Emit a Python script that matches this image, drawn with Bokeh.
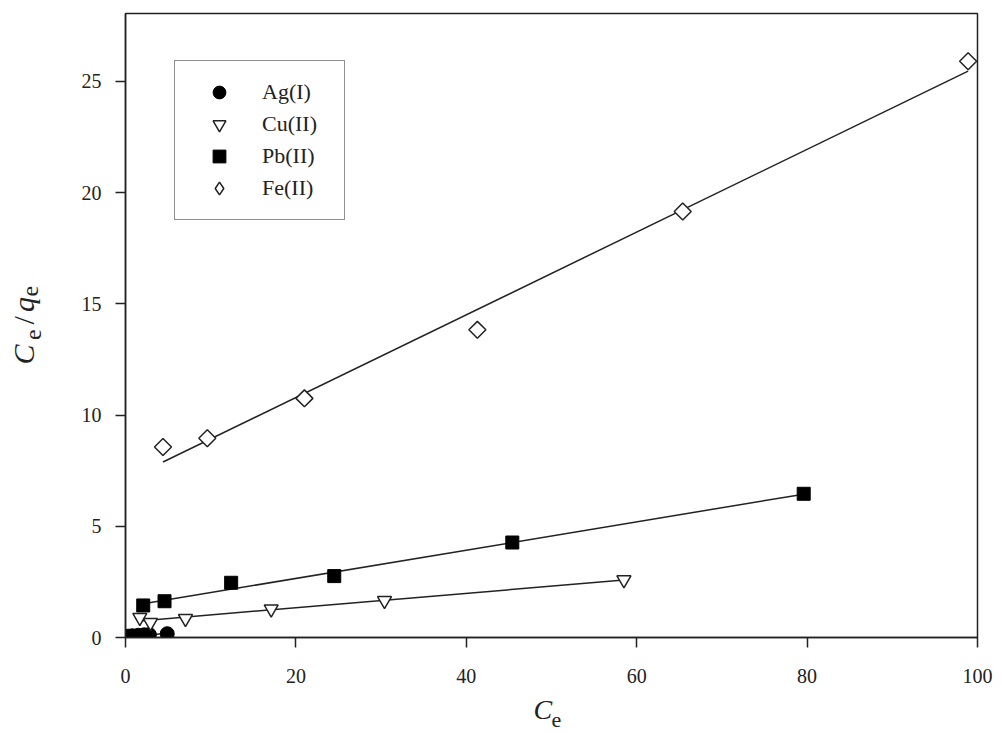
import numpy as np
from bokeh.plotting import figure
from bokeh.layouts import row, column
from bokeh.models import Range1d, FixedTicker, Legend, LegendItem
from bokeh.core.properties import value
from bokeh.embed import file_html
from bokeh.resources import INLINE

# ---- data ----
ag_x = [0.3, 0.8, 1.5, 2.2, 2.8, 4.9]
ag_y = [0.06, 0.08, 0.10, 0.12, 0.13, 0.17]

cu_x = [1.68, 2.93, 7.04, 17.1, 30.4, 58.5]
cu_y = [0.90, 0.67, 0.85, 1.28, 1.66, 2.59]

pb_x = [2.08, 4.58, 12.4, 24.5, 45.4, 79.6]
pb_y = [1.44, 1.63, 2.46, 2.76, 4.27, 6.46]

fe_x = [4.4, 9.6, 21.0, 41.3, 65.4, 98.9]
fe_y = [8.56, 8.96, 10.75, 13.83, 19.15, 25.9]

series_names = ["Ag(I)", "Cu(II)", "Pb(II)", "Fe(II)"]
x_ticks = [0, 20, 40, 60, 80, 100]
y_ticks = [0, 5, 10, 15, 20, 25]

FONT = "Liberation Serif"
INK = "#222222"

# ---------------- main plot ----------------
p = figure(width=940, height=690, x_range=Range1d(0, 100), y_range=Range1d(0, 28.05),
           output_backend="svg", toolbar_location=None, title=None,
           min_border_left=65, min_border_right=23, min_border_top=13, min_border_bottom=53)
p.grid.visible = False
p.outline_line_color = INK
p.outline_line_width = 1.5
p.background_fill_color = "white"
p.border_fill_color = "white"

for ax in (p.xaxis[0], p.yaxis[0]):
    ax.axis_line_color = INK
    ax.axis_line_width = 1.5
    ax.major_tick_line_color = INK
    ax.major_tick_line_width = 1.5
    ax.major_tick_out = 10
    ax.major_tick_in = 0
    ax.minor_tick_line_color = None
    ax.major_label_text_font = FONT
    ax.major_label_text_font_size = "20px"
    ax.major_label_text_color = INK
p.xaxis.ticker = FixedTicker(ticks=x_ticks)
p.yaxis.ticker = FixedTicker(ticks=y_ticks)
p.xaxis.major_label_standoff = 21
p.yaxis.major_label_standoff = 14

def fit_line(xs, ys):
    k, b = np.polyfit(xs, ys, 1)
    xx = np.array([min(xs), max(xs)])
    p.line(xx, k * xx + b, line_color=INK, line_width=1.5)

for xs, ys in [(ag_x, ag_y), (cu_x, cu_y), (pb_x, pb_y), (fe_x, fe_y)]:
    fit_line(xs, ys)

r_ag = p.scatter(ag_x, ag_y, marker="circle", size=14, fill_color="black", line_color="black")
r_cu = p.scatter(cu_x, cu_y, marker="inverted_triangle", size=14, fill_color="white",
                 line_color=INK, line_width=1.5)
r_pb = p.scatter(pb_x, pb_y, marker="square", size=13, fill_color="black", line_color="black")
# narrow diamond used for the legend entry; hidden beneath the rotated squares
r_fe_leg = p.scatter(fe_x, fe_y, marker="diamond", size=15, fill_color="white",
                     line_color=INK, line_width=1.5)
r_fe = p.scatter(fe_x, fe_y, marker="square", angle=np.pi / 4, size=12, fill_color="white",
                 line_color=INK, line_width=1.5)

legend = Legend(items=[LegendItem(label=n, renderers=[r]) for n, r in
                       zip(series_names, [r_ag, r_cu, r_pb, r_fe_leg])],
                location=(49, 417))
legend.label_text_font = FONT
legend.label_text_font_size = "22px"
legend.label_text_color = INK
legend.glyph_height = 32
legend.glyph_width = 58
legend.label_height = 32
legend.label_width = 67
legend.label_standoff = 14
legend.spacing = 0
legend.padding = 15
legend.margin = 0
legend.border_line_color = INK
legend.border_line_width = 1.5
legend.background_fill_alpha = 1
p.add_layout(legend, "center")

# ---------------- axis titles (small text-only figures) ----------------
def text_fig(w, h):
    f = figure(width=w, height=h, x_range=Range1d(0, w), y_range=Range1d(0, h),
               output_backend="svg", toolbar_location=None, title=None,
               x_axis_type=None, y_axis_type=None,
               min_border=0, min_border_left=0, min_border_right=0,
               min_border_top=0, min_border_bottom=0)
    f.outline_line_color = None
    f.background_fill_color = "white"
    f.border_fill_color = "white"
    return f

def put(f, x, y, txt, size, style="normal", angle=0):
    f.text(x=[x], y=[y], text=[txt], angle=angle, text_font=value(FONT),
           text_font_size=size, text_font_style=style, text_color=INK,
           text_align="left", text_baseline="alphabetic")

# y title "C_e/q_e" (rotated, reading upward); figure spans page y 0..690
H = 690
yt = text_fig(60, H)
a = np.pi / 2
put(yt, 23, H - 388, "C", "30px", "italic", a)
put(yt, 33, H - 361, "e", "24px", "normal", a)
put(yt, 23, H - 344, "/", "30px", "normal", a)
put(yt, 23, H - 330, "q", "30px", "italic", a)
put(yt, 30, H - 313, "e", "24px", "normal", a)

# x title "C_e"; figure spans page y 690..733, x 0..1000
XH = 43
xt = text_fig(1000, XH)
put(xt, 533, 24, "C", "28px", "italic")
put(xt, 551, 14, "e", "22px")

layout = column(row(yt, p), xt)
open("out.html", "w").write(file_html(layout, INLINE))
